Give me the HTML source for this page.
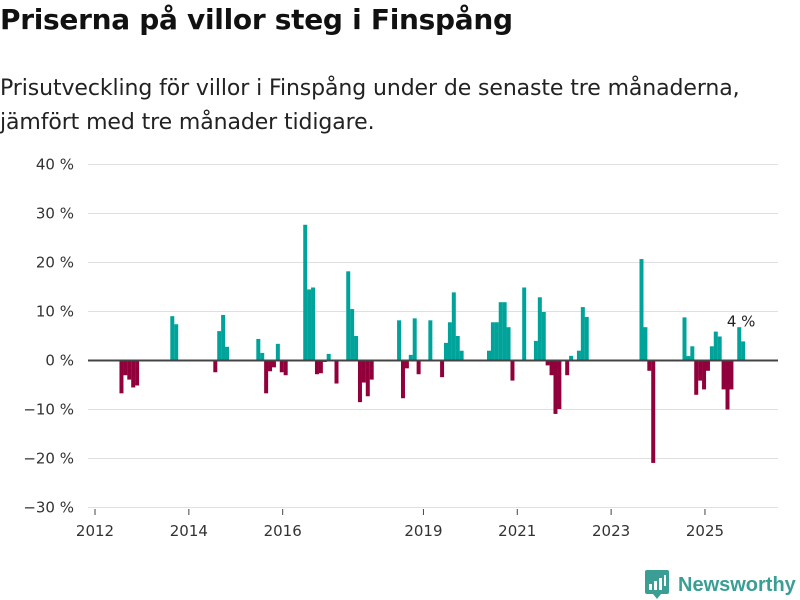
<!DOCTYPE html>
<html><head><meta charset="utf-8"><style>
body{margin:0;width:800px;height:600px;background:#fff;font-family:"DejaVu Sans",sans-serif;overflow:hidden;position:relative}
#title{position:absolute;left:0;top:3px;font-size:28px;font-weight:bold;color:#111;letter-spacing:-0.3px}
#sub{position:absolute;left:0;top:72px;font-size:22px;line-height:34px;color:#222;letter-spacing:-0.1px}
svg{position:absolute;left:0;top:0}
</style></head><body>
<div id="title">Priserna på villor steg i Finspång</div>
<div id="sub">Prisutveckling för villor i Finspång under de senaste tre månaderna,<br>jämfört med tre månader tidigare.</div>
<svg id="chart" width="800" height="600"></svg>
<script>
const monthIdx=[6,7,8,9,10,19,20,30,31,32,33,41,42,43,44,45,46,47,48,53,54,55,56,57,58,59,61,64,65,66,67,68,69,70,77,78,79,80,81,82,85,88,89,90,91,92,93,100,101,102,103,104,105,106,109,112,113,114,115,116,117,118,120,121,123,124,125,139,140,141,142,150,151,152,153,154,155,156,157,158,159,160,161,162,164,165];
const values=[-6.7,-3.0,-3.9,-5.5,-5.1,9.05,7.4,-2.4,6.0,9.3,2.8,4.4,1.55,-6.7,-2.2,-1.4,3.4,-2.4,-3.0,27.7,14.5,14.9,-2.8,-2.6,-0.3,1.35,-4.7,18.2,10.5,5.0,-8.5,-4.5,-7.3,-3.9,8.2,-7.7,-1.6,1.15,8.6,-2.8,8.2,-3.4,3.6,7.8,13.9,5.0,2.0,2.0,7.8,7.8,11.9,11.9,6.8,-4.1,14.9,4.0,12.9,9.9,-1.0,-3.0,-10.9,-9.9,-3.0,0.95,2.0,10.9,8.9,20.7,6.8,-2.1,-20.9,8.8,0.9,2.9,-7.0,-4.1,-5.9,-2.1,2.9,5.9,4.9,-5.9,-10.0,-5.9,6.8,3.9];
const yTicks=[40,30,20,10,0,-10,-20,-30];
const xYears=[2012,2014,2016,2019,2021,2023,2025];
const lastLabel="4 %";
const svg=document.getElementById('chart');const NS='http://www.w3.org/2000/svg';
const yS=v=>360.5-v*4.9;
const xM=m=>95+m*3.91;
const FF='DejaVu Sans, sans-serif';
function mk(t,a){const e=document.createElementNS(NS,t);for(const k in a)e.setAttribute(k,a[k]);svg.appendChild(e);return e;}
yTicks.forEach(t=>{
 const g=mk('line',{x1:88,x2:778,y1:yS(t),y2:yS(t),stroke:'#e0e0e0','stroke-width':1});
 
 
 const l=mk('text',{x:74,y:yS(t)+5,'text-anchor':'end','font-size':15,fill:'#333','font-family':FF});
 l.textContent=(t<0?'\u2212'+(-t):t)+' %';
 
 
});
xYears.forEach(y=>{
 const x=xM((y-2012)*12);
 const t=mk('line',{x1:x,x2:x,y1:509,y2:515,stroke:'#444','stroke-width':1});
 
 
 const l=mk('text',{x:x,y:536,'text-anchor':'middle','font-size':15,fill:'#333','font-family':FF});
 l.textContent=y;
 
 
});
monthIdx.forEach((m,i)=>{
 const v=values[i];const y0=yS(0),y1=yS(v);
 const r=mk('rect',{x:xM(m)+1,y:Math.min(y0,y1),width:4,height:Math.abs(y1-y0),fill:v>=0?'#00a39a':'#92003b'});
 
 
});
const z=mk('line',{x1:88,x2:778,y1:yS(0),y2:yS(0),stroke:'#444','stroke-width':2});


const li=monthIdx.length-1;
const lb=mk('text',{x:xM(monthIdx[li])+1,y:yS(values[li])-15,'text-anchor':'middle','font-size':15,fill:'#222',stroke:'#fff','stroke-width':3,'paint-order':'stroke','font-family':FF});
lb.textContent=lastLabel;


</script>
<div style="position:absolute;left:645px;top:570px;display:flex;align-items:center">
 <svg width="24" height="30" viewBox="0 0 24 30" style="position:static"><path d="M0 2 Q0 0 2 0 H22 Q24 0 24 2 V22 Q24 24 22 24 H16 L12 29 L8 24 H2 Q0 24 0 22Z" fill="#3a9e95"/><rect x="4" y="14" width="3" height="6" fill="#fff"/><rect x="9" y="11" width="3" height="9" fill="#fff"/><rect x="14" y="8" width="3" height="12" fill="#fff"/><rect x="19" y="5" width="2" height="11" fill="#fff"/></svg>
 <span style="font-family:'Liberation Sans',sans-serif;font-size:20px;font-weight:bold;color:#3a9e95;margin-left:9px">Newsworthy</span>
</div>
</body></html>
